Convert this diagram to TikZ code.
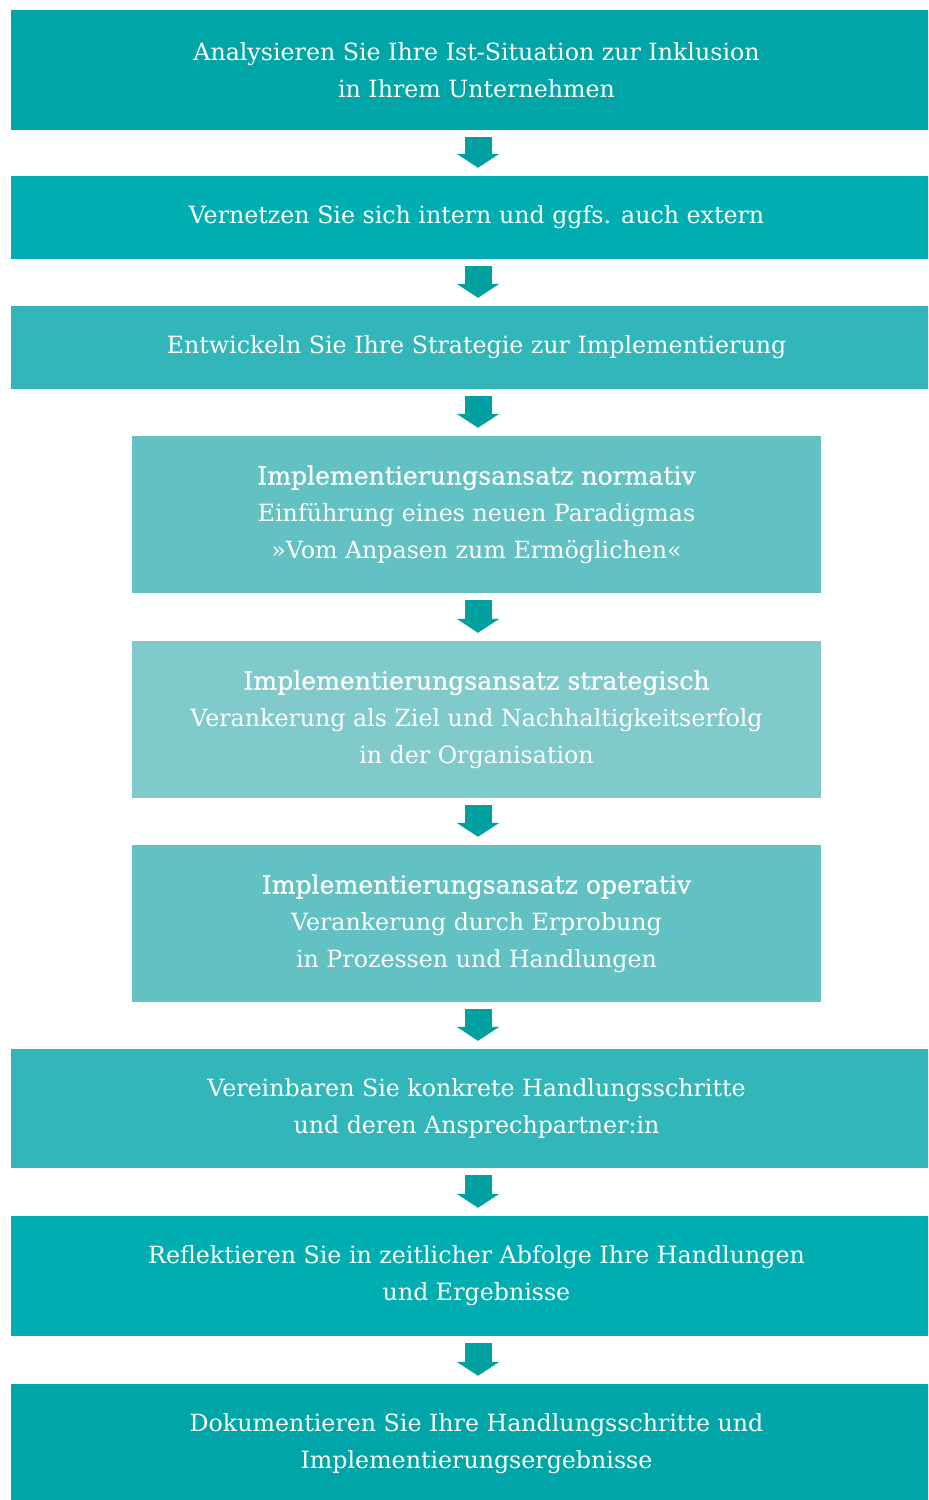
\documentclass[tikz,border=0pt]{standalone}
\usepackage{fontspec}
\setmainfont{DejaVu Serif}
\newfontfamily\headfont[FakeBold=0.6]{DejaVu Serif}
\usetikzlibrary{arrows.meta,calc}
\definecolor{tealA}{RGB}{0,165,168}
\definecolor{tealB}{RGB}{0,174,178}
\definecolor{tealC}{RGB}{50,182,186}
\definecolor{tealD}{RGB}{97,193,195}
\definecolor{tealE}{RGB}{128,202,204}
\definecolor{arrowteal}{RGB}{0,160,161}
\newcommand{\ansatz}[1]{{\headfont\fontsize{25.2}{37}\selectfont Implementierungsansatz #1}}
\begin{document}
\begin{tikzpicture}[x=1bp,y=-1bp,
    box/.style={rectangle,inner sep=0pt,text=white,align=center,
      font=\fontsize{23.8}{37}\selectfont,minimum width=931bp},
    smallbox/.style={box,minimum width=689bp,minimum height=157bp},
    flow/.style={arrowteal,line width=27bp,-{Triangle[width=42bp,length=14bp]}}]
  \useasboundingbox (0,0) rectangle (928,1500);
  \clip (0,0) rectangle (928,1500);
  \node[box,fill=tealA,minimum height=120bp] (ist) at (476.5,70)
    {Analysieren Sie Ihre Ist-Situation zur Inklusion\\in Ihrem Unternehmen};
  \node[box,fill=tealB,minimum height=83bp] (netz) at (476.5,217.5)
    {Vernetzen Sie sich intern und ggfs. auch extern};
  \node[box,fill=tealC,minimum height=83bp] (strat) at (476.5,347.5)
    {Entwickeln Sie Ihre Strategie zur Implementierung};
  \node[smallbox,fill=tealD] (norm) at (476.5,514.5)
    {\ansatz{normativ}\\Einführung eines neuen Paradigmas\\»Vom Anpasen zum Ermöglichen«};
  \node[smallbox,fill=tealE] (strg) at (476.5,719.5)
    {\ansatz{strategisch}\\Verankerung als Ziel und Nachhaltigkeitserfolg\\in der Organisation};
  \node[smallbox,fill=tealD] (oper) at (476.5,923.5)
    {\ansatz{operativ}\\Verankerung durch Erprobung\\in Prozessen und Handlungen};
  \node[box,fill=tealC,minimum height=119bp] (schritt) at (476.5,1108.5)
    {Vereinbaren Sie konkrete Handlungsschritte\\und deren Ansprechpartner:in};
  \node[box,fill=tealB,minimum height=120bp] (reflex) at (476.5,1276)
    {Reflektieren Sie in zeitlicher Abfolge Ihre Handlungen\\und Ergebnisse};
  \node[box,fill=tealA,minimum height=120bp] (doku) at (476.5,1444)
    {Dokumentieren Sie Ihre Handlungsschritte und\\Implementierungsergebnisse};
  % arrows between the steps
  \foreach \a/\b in {ist/netz,netz/strat,strat/norm,norm/strg,strg/oper,
      oper/schritt,schritt/reflex,reflex/doku}
    \draw[flow] ($(\a.south)+(1.5,7)$) -- ($(\b.north)+(1.5,-8)$);
\end{tikzpicture}
\end{document}
